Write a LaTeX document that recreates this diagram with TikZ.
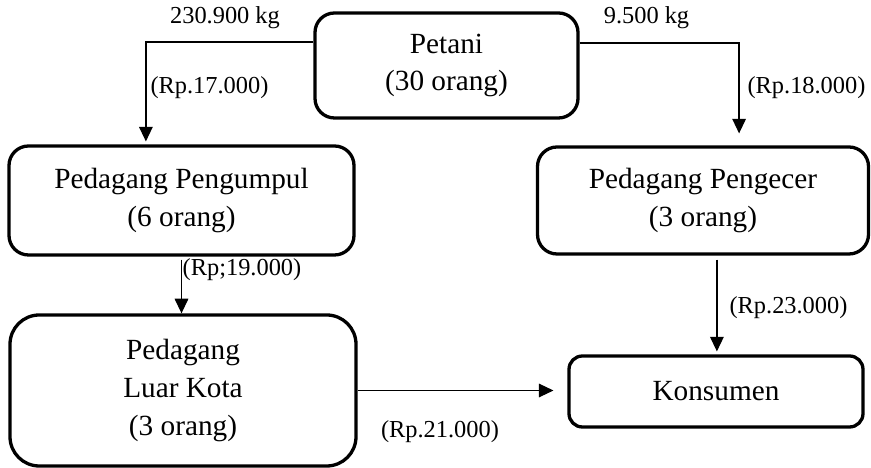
\documentclass[tikz,border=0pt]{standalone}
\usepackage{fontspec}
\setmainfont{Liberation Serif}
\usetikzlibrary{arrows.meta}
\begin{document}
\begin{tikzpicture}[x=0.41pt,y=-0.41pt,
  box/.style={draw, line width=1.35pt, align=center, inner sep=0pt,
    font=\fontsize{12}{15.5}\selectfont},
  lbl/.style={inner sep=0pt, font=\fontsize{10}{12}\selectfont},
  arr/.style={line width=0.5pt, -{Triangle[length=6pt,width=5.6pt]}}]
\useasboundingbox (0,0) rectangle (871,468);
% boxes
\node[box, rounded corners=8pt, minimum width=263*0.41pt, minimum height=105*0.41pt]
  (pet) at (446.5,65.5) {Petani\\(30 orang)};
\node[box, rounded corners=8pt, minimum width=345*0.41pt, minimum height=109*0.41pt]
  (pum) at (181.5,200.5) {Pedagang Pengumpul\\(6 orang)};
\node[box, rounded corners=8pt, minimum width=331*0.41pt, minimum height=107*0.41pt]
  (pge) at (703,200.5) {Pedagang Pengecer\\(3 orang)};
\node[box, rounded corners=12pt, minimum width=346*0.41pt, minimum height=151*0.41pt]
  (luar) at (183,390.5) {Pedagang\\Luar Kota\\(3 orang)};
\node[box, rounded corners=5.5pt, minimum width=294*0.41pt, minimum height=71*0.41pt]
  (kon) at (716,391.5) {Konsumen};
% connectors
\coordinate (k1) at (146,42);
\coordinate (k2) at (739,43);
\draw[arr, shorten >=1.2pt] (pet.west |- k1) -| ([xshift=-14.6pt]pum.north);
\draw[arr, shorten >=4.9pt] (pet.east |- k2) -| ([xshift=14.8pt]pge.north);
\draw[arr, shorten <=1.2pt] (pum.south) -- (pum.south |- luar.north);
\draw[arr, shorten <=1.6pt, shorten >=1.2pt] ([xshift=5.7pt]pge.south) -- ([xshift=5.7pt]pge.south |- kon.north);
\draw[arr, shorten >=5.7pt] (luar.east) -- (luar.east -| kon.west);
% labels
\node[lbl] (l1) at (225,18) {230.900 kg};
\node[lbl] (l2) at (646.5,18) {9.500 kg};
\node[lbl] (l3) at (209.5,88) {(Rp.17.000)};
\node[lbl] (l4) at (806.5,88) {(Rp.18.000)};
\node[lbl] (l5) at (242,270) {(Rp;19.000)};
\node[lbl] (l6) at (788.5,308) {(Rp.23.000)};
\node[lbl] (l7) at (440,432) {(Rp.21.000)};
\end{tikzpicture}
\end{document}
